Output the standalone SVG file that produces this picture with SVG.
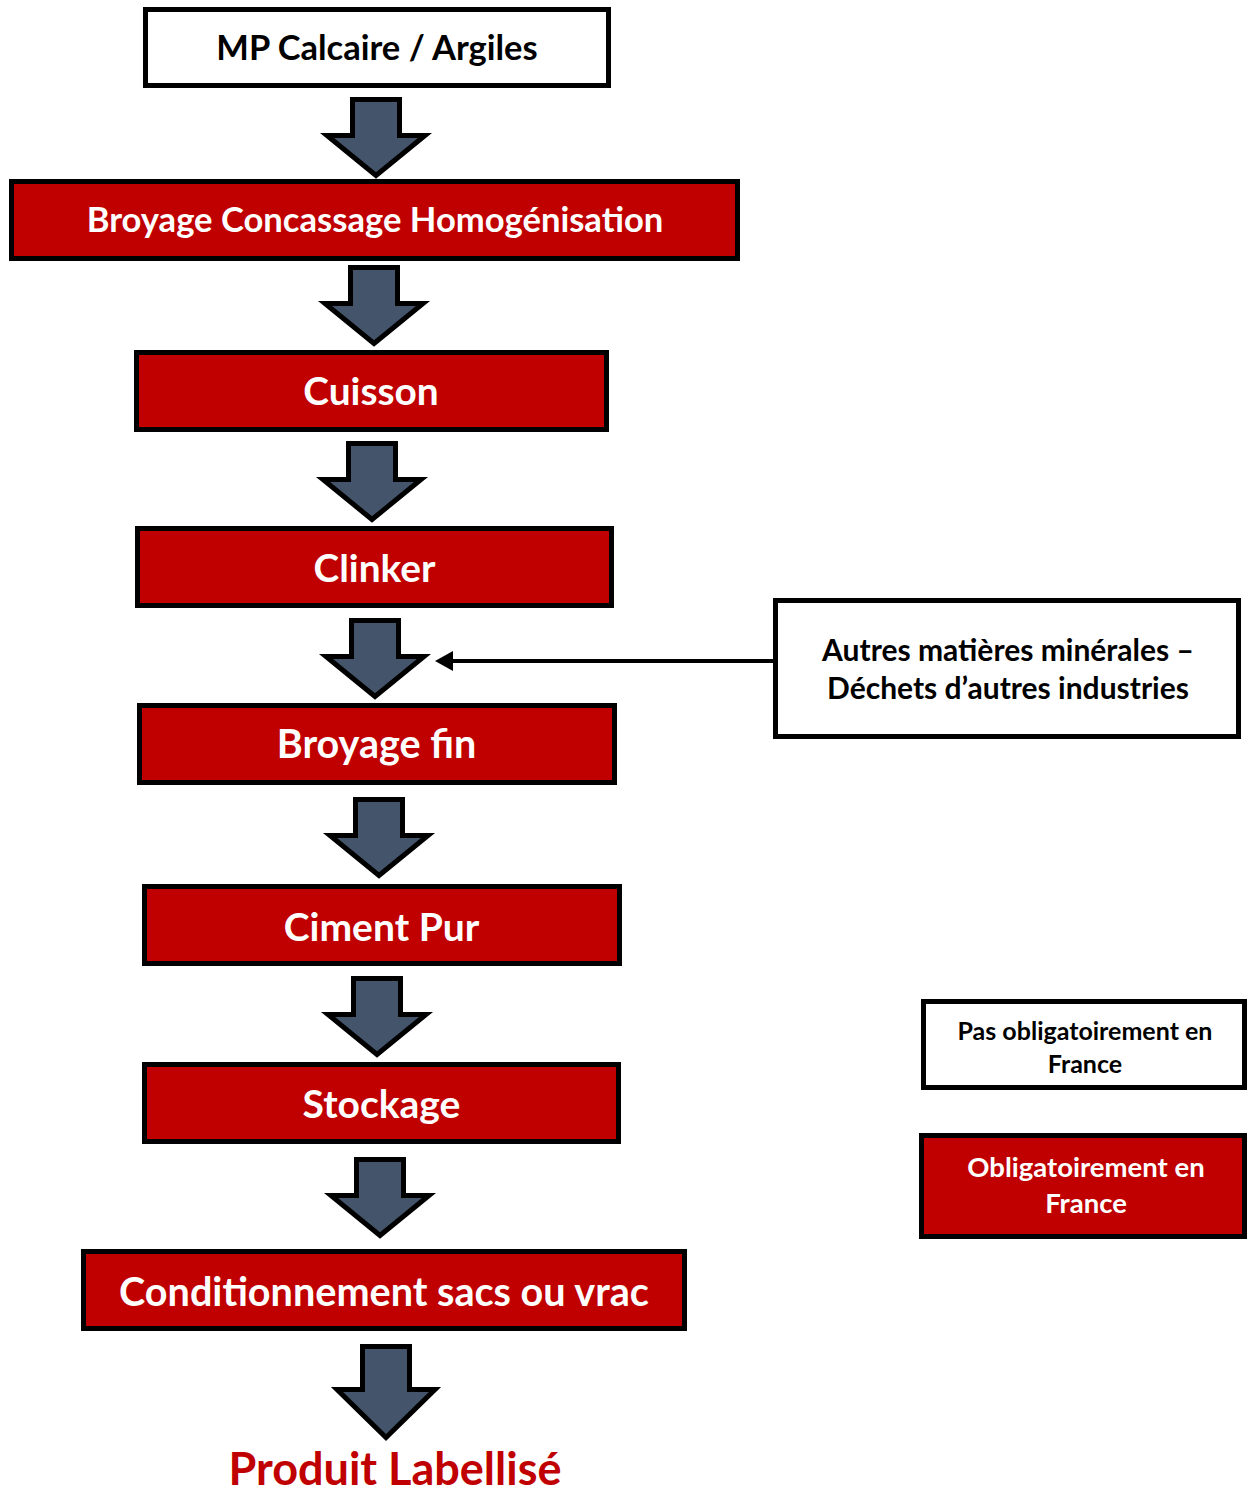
<svg xmlns="http://www.w3.org/2000/svg" xmlns:xlink="http://www.w3.org/1999/xlink" width="1248" height="1492" viewBox="0 0 1248 1492">
<style>
.box{stroke:#000;stroke-width:5}
.w{fill:#fff}
.r{fill:#C00000}
.t{font-family:Lato,"Liberation Sans",sans-serif;font-weight:bold;text-anchor:middle}
.tw{fill:#fff}
.tb{fill:#000}
.tr{fill:#C00000}
.arr{fill:#44546A;stroke:#000;stroke-width:5;stroke-linejoin:miter}
</style>
<defs>
<path id="arrow" class="arr" d="M -23.5,0 H 23.5 V 36 H 49 L 0,76 L -49,36 H -23.5 Z"/>
<path id="arrowL" class="arr" d="M -23.5,0 H 23.5 V 43 H 49 L 0,91 L -49,43 H -23.5 Z"/>
</defs>
<g id="connectors">
<use href="#arrow" x="376" y="99.5"/>
<use href="#arrow" x="374" y="267.5"/>
<use href="#arrow" x="372" y="443.5"/>
<use href="#arrow" x="375" y="620.5"/>
<use href="#arrow" x="379" y="799.5"/>
<use href="#arrow" x="377" y="978.5"/>
<use href="#arrow" x="380" y="1159.5"/>
<use href="#arrowL" x="386" y="1346.5"/>
<line x1="773" y1="661" x2="453" y2="661" stroke="#000" stroke-width="4"/>
<path d="M 435,661 L 453,651 L 453,671 Z" fill="#000"/>
</g>
<g id="n-mp">
<rect class="box w" x="145.5" y="9.5" width="463" height="76"/>
<text class="t tb" x="377" y="60" font-size="34.5">MP Calcaire / Argiles</text>
</g>
<g id="n-broyage">
<rect class="box r" x="11.5" y="181.5" width="726" height="77"/>
<text class="t tw" x="375" y="232" font-size="34.6">Broyage Concassage Homogénisation</text>
</g>
<g id="n-cuisson">
<rect class="box r" x="136.5" y="352.5" width="470" height="77"/>
<text class="t tw" x="371" y="405" font-size="38.8">Cuisson</text>
</g>
<g id="n-clinker">
<rect class="box r" x="137.5" y="528.5" width="474" height="77"/>
<text class="t tw" x="374.5" y="582" font-size="38.8">Clinker</text>
</g>
<g id="n-broyagefin">
<rect class="box r" x="139.5" y="705.5" width="475" height="77"/>
<text class="t tw" x="376.5" y="758" font-size="39.5">Broyage fin</text>
</g>
<g id="n-ciment">
<rect class="box r" x="144.5" y="886.5" width="475" height="77"/>
<text class="t tw" x="381.5" y="941" font-size="39">Ciment Pur</text>
</g>
<g id="n-stockage">
<rect class="box r" x="144.5" y="1064.5" width="474" height="77"/>
<text class="t tw" x="381.5" y="1118" font-size="39">Stockage</text>
</g>
<g id="n-cond">
<rect class="box r" x="83.5" y="1251.5" width="601" height="77"/>
<text class="t tw" x="384" y="1306" font-size="39.6">Conditionnement sacs ou vrac</text>
</g>
<g id="n-produit">
<text class="t tr" x="395" y="1485" font-size="45">Produit Labellisé</text>
</g>
<g id="n-autres">
<rect class="box w" x="775.5" y="600.5" width="463" height="136"/>
<text class="t tb" x="1008" y="661" font-size="30">Autres matières minérales –</text>
<text class="t tb" x="1008" y="699" font-size="30">Déchets d’autres industries</text>
</g>
<g id="legend-white">
<rect class="box w" x="923.5" y="1001.5" width="321" height="86"/>
<text class="t tb" x="1085" y="1040" font-size="25">Pas obligatoirement en</text>
<text class="t tb" x="1085" y="1073" font-size="25">France</text>
</g>
<g id="legend-red">
<rect class="box r" x="921.5" y="1135.5" width="323" height="101"/>
<text class="t tw" x="1086" y="1177" font-size="27.5">Obligatoirement en</text>
<text class="t tw" x="1086" y="1213" font-size="27.5">France</text>
</g>
</svg>
